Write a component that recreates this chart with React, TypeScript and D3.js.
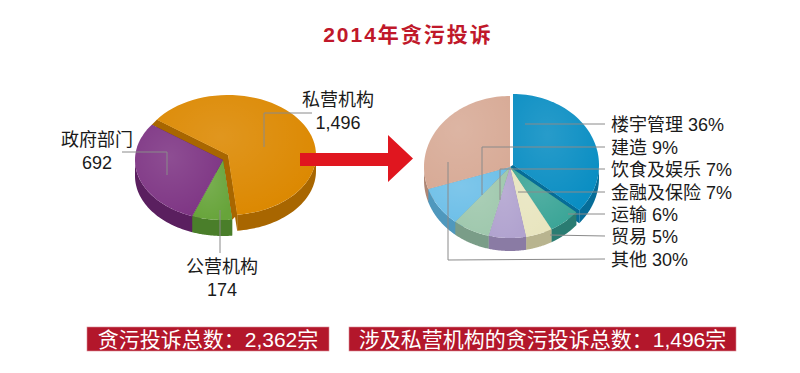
import { useEffect, useRef } from "react";
import * as d3 from "d3";

// left pie: complaint sources (2014)
const sourceNames = ["私营机构", "公营机构", "政府部门"];
const sourceValues = [1496, 174, 692];
const sourceLabels = ["1,496", "174", "692"];

// right pie: private-sector breakdown (%)
const sectorNames = ["楼宇管理", "运输", "贸易", "金融及保险", "饮食及娱乐", "建造", "其他"];
const sectorValues = [36, 6, 5, 7, 7, 9, 30];
// order the labels are listed at the right
const sectorLabelOrder = ["楼宇管理", "建造", "饮食及娱乐", "金融及保险", "运输", "贸易", "其他"];

const totalText = "贪污投诉总数：2,362宗";
const privateText = "涉及私营机构的贪污投诉总数：1,496宗";

const FONT = "'Liberation Sans', 'Noto Sans CJK SC', sans-serif";

type PieCfg = {
  cx: number;
  cy: number;
  rx: number;
  ry: number;
  depth: number;
  start: number;
  explode: number[][];
  top: string[];
  side: string[];
};

function drawPie(g: any, values: number[], cfg: PieCfg) {
  const pie = d3
    .pie<number>()
    .sort(null)
    .value((d) => d)
    .startAngle(cfg.start)
    .endAngle(cfg.start + Math.PI * 2);
  const arcs = pie(values);

  const slices = arcs.map((a, i) => {
    const [dx, dy] = cfg.explode[i] || [0, 0];
    const ox = cfg.cx + dx;
    const oy = cfg.cy + dy;
    const p = (t: number, dz = 0): [number, number] => [
      ox + cfg.rx * Math.sin(t),
      oy - cfg.ry * Math.cos(t) + dz,
    ];
    const p0 = (t: number): [number, number] => [
      cfg.cx + cfg.rx * Math.sin(t),
      cfg.cy - cfg.ry * Math.cos(t),
    ];
    return { a, i, ox, oy, p, p0, moved: dx !== 0 || dy !== 0 };
  });

  const line = d3.line();

  // radial walls (and the visible wall inside the gap of a pulled-out slice)
  slices.forEach((s) => {
    [
      { t: s.a.startAngle, ny: -Math.sin(s.a.startAngle) },
      { t: s.a.endAngle, ny: Math.sin(s.a.endAngle) },
    ].forEach(({ t, ny }) => {
      const e = s.p(t);
      const pts: [number, number][] = [
        [s.ox, s.oy],
        e,
        [e[0], e[1] + cfg.depth],
        [s.ox, s.oy + cfg.depth],
      ];
      g.append("path").attr("d", line(pts) + "Z").attr("fill", cfg.side[s.i]);
      if (s.moved && ny > 0.05) {
        const gap: [number, number][] = [[s.ox, s.oy], e, s.p0(t), [cfg.cx, cfg.cy]];
        g.append("path").attr("d", line(gap) + "Z").attr("fill", cfg.side[s.i]);
      }
    });
  });

  // outer (front) walls
  slices.forEach((s) => {
    [-1, 0, 1].forEach((k) => {
      const lo = Math.max(s.a.startAngle, Math.PI / 2 + k * 2 * Math.PI);
      const hi = Math.min(s.a.endAngle, (Math.PI * 3) / 2 + k * 2 * Math.PI);
      if (hi <= lo) return;
      const ts = d3.range(0, 41).map((j) => lo + ((hi - lo) * j) / 40);
      const pts = ts.map((t) => s.p(t)).concat(ts.slice().reverse().map((t) => s.p(t, cfg.depth)));
      g.append("path").attr("d", line(pts) + "Z").attr("fill", cfg.side[s.i]);
    });
  });

  // tops
  slices.forEach((s) => {
    const n = 60;
    const ts = d3.range(0, n + 1).map((j) => s.a.startAngle + ((s.a.endAngle - s.a.startAngle) * j) / n);
    const pts: [number, number][] = [[s.ox, s.oy], ...ts.map((t) => s.p(t))];
    g.append("path").attr("d", line(pts) + "Z").attr("fill", cfg.top[s.i]);
    g.append("path").attr("d", line(pts) + "Z").attr("fill", "url(#shine)");
  });
}

export default function App() {
  const ref = useRef<SVGSVGElement | null>(null);

  useEffect(() => {
    const svg = d3.select(ref.current);
    svg.selectAll("*").remove();

    const defs = svg.append("defs");
    const rg = defs
      .append("radialGradient")
      .attr("id", "shine")
      .attr("cx", "40%")
      .attr("cy", "35%")
      .attr("r", "70%");
    rg.append("stop").attr("offset", "0%").attr("stop-color", "#fff").attr("stop-opacity", 0.12);
    rg.append("stop").attr("offset", "100%").attr("stop-color", "#fff").attr("stop-opacity", 0);

    // title
    svg
      .append("text")
      .attr("x", 408)
      .attr("y", 42)
      .attr("text-anchor", "middle")
      .attr("font-family", FONT)
      .attr("font-weight", "bold")
      .attr("font-size", 21)
      .attr("letter-spacing", 2)
      .attr("fill", "#c0182a")
      .text("2014年贪污投诉");

    // left pie
    drawPie(svg.append("g"), sourceValues, {
      cx: 223,
      cy: 160,
      rx: 88,
      ry: 60,
      depth: 16,
      start: (-54 * Math.PI) / 180,
      explode: [[5, -5], [0, 0], [0, 0]],
      top: ["#dc8800", "#67a43a", "#7e3584"],
      side: ["#a86600", "#4a7e2a", "#5a1f5f"],
    });

    // right pie
    drawPie(svg.append("g"), sectorValues, {
      cx: 510,
      cy: 167,
      rx: 86,
      ry: 71,
      depth: 13,
      start: 0,
      explode: [[3, -2]],
      top: ["#0a8ec3", "#3ba597", "#e8e5bf", "#b1a3cf", "#9fc8ad", "#6dbfe8", "#d8ab97"],
      side: ["#066d98", "#2a7c72", "#b8b48f", "#8a7ba4", "#7a9d88", "#4f98bd", "#ae8674"],
    });

    // arrow
    svg
      .append("path")
      .attr("d", "M300,153 L388,153 L388,135 L413,158.5 L388,182 L388,166 L300,166 Z")
      .attr("fill", "#e0161f");

    const leader = d3.line();
    const txt = (x: number, y: number, s: string, anchor = "middle") =>
      svg
        .append("text")
        .attr("x", x)
        .attr("y", y)
        .attr("text-anchor", anchor)
        .attr("font-family", FONT)
        .attr("font-size", 18)
        .attr("fill", "#1a1a1a")
        .text(s);

    // left pie annotations
    const leftAnno = [
      { pts: [[264, 147], [264, 113], [312, 113]], x: 338, y: 106 },
      { pts: [[220, 210], [220, 253]], x: 222, y: 273 },
      { pts: [[122, 152], [167, 152], [167, 175]], x: 97, y: 146 },
    ];
    leftAnno.forEach((a, i) => {
      svg
        .append("path")
        .attr("d", leader(a.pts as [number, number][]))
        .attr("fill", "none")
        .attr("stroke", "#8a8a8a")
        .attr("stroke-width", 1);
      txt(a.x, a.y, sourceNames[i]);
      txt(a.x, a.y + 23, sourceLabels[i]);
    });

    // right pie annotations
    const rightAnchors: Record<string, number[][]> = {
      楼宇管理: [[525, 124]],
      建造: [[482, 195], [482, 147]],
      饮食及娱乐: [[500, 200], [500, 169]],
      金融及保险: [[518, 192]],
      运输: [[568, 214]],
      贸易: [[550, 235]],
      其他: [[448, 162], [448, 260]],
    };
    const rowY = [124, 147, 169, 192, 214, 236, 259];
    sectorLabelOrder.forEach((name, r) => {
      const pts = rightAnchors[name].concat([[605, rowY[r]]]);
      svg
        .append("path")
        .attr("d", leader(pts as [number, number][]))
        .attr("fill", "none")
        .attr("stroke", "#8a8a8a")
        .attr("stroke-width", 1);
      const v = sectorValues[sectorNames.indexOf(name)];
      txt(611, rowY[r] + 7, `${name} ${v}%`, "start");
    });

    // bottom banners
    const banners = [
      { x: 87, w: 242, s: totalText },
      { x: 349, w: 387, s: privateText },
    ];
    banners.forEach((b) => {
      svg
        .append("rect")
        .attr("x", b.x)
        .attr("y", 327)
        .attr("width", b.w)
        .attr("height", 24)
        .attr("fill", "#b3172b")
        .attr("stroke", "#d98a94")
        .attr("stroke-width", 0.6);
      svg
        .append("text")
        .attr("x", b.x + b.w / 2)
        .attr("y", 347)
        .attr("text-anchor", "middle")
        .attr("font-family", FONT)
        .attr("font-size", 21)
        .attr("fill", "#fff")
        .text(b.s);
    });
  }, []);

  return (
    <div style={{ position: "absolute", left: 0, top: 0 }}>
      <svg ref={ref} width={800} height={373} style={{ display: "block", background: "#fff" }} />
    </div>
  );
}
